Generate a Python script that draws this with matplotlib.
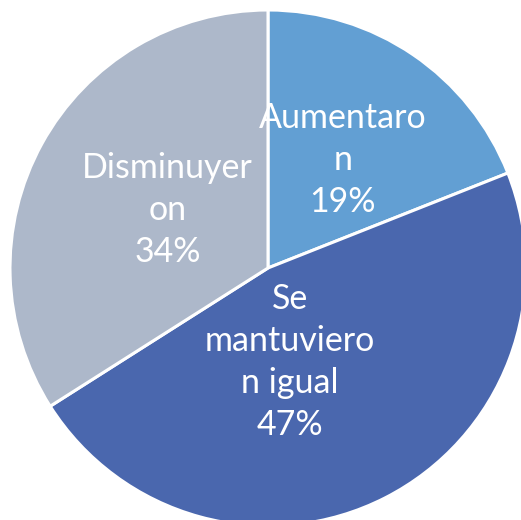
import matplotlib
matplotlib.use("Agg")
import matplotlib.pyplot as plt

# data
categories = ["Aumentaro\nn", "Se\nmantuviero\nn igual", "Disminuyer\non"]
percentages = [19, 47, 34]
colors = ["#629FD3", "#4A67AE", "#ADB8CA"]

# label centres in data units (pie radius = 1)
label_pos = [(0.29, 0.42), (0.085, -0.365), (-0.39, 0.225)]

fig = plt.figure(figsize=(5.21, 5.20), dpi=100)
ax = fig.add_axes([0, 0, 1, 1])

ax.pie(percentages, colors=colors, startangle=90, counterclock=False,
       wedgeprops=dict(edgecolor="white", linewidth=2.2))

for cat, pct, (x, y) in zip(categories, percentages, label_pos):
    ax.text(x, y, f"{cat}\n{pct}%", ha="center", va="center",
            color="white", fontsize=24.5, family="Lato", fontweight="normal",
            linespacing=1.38)

ax.set_xlim(-268 / 258, 253 / 258)
ax.set_ylim(-252 / 258, 268 / 258)
ax.set_aspect("equal")
ax.axis("off")

fig.savefig("out.png", dpi=100, facecolor="white")
